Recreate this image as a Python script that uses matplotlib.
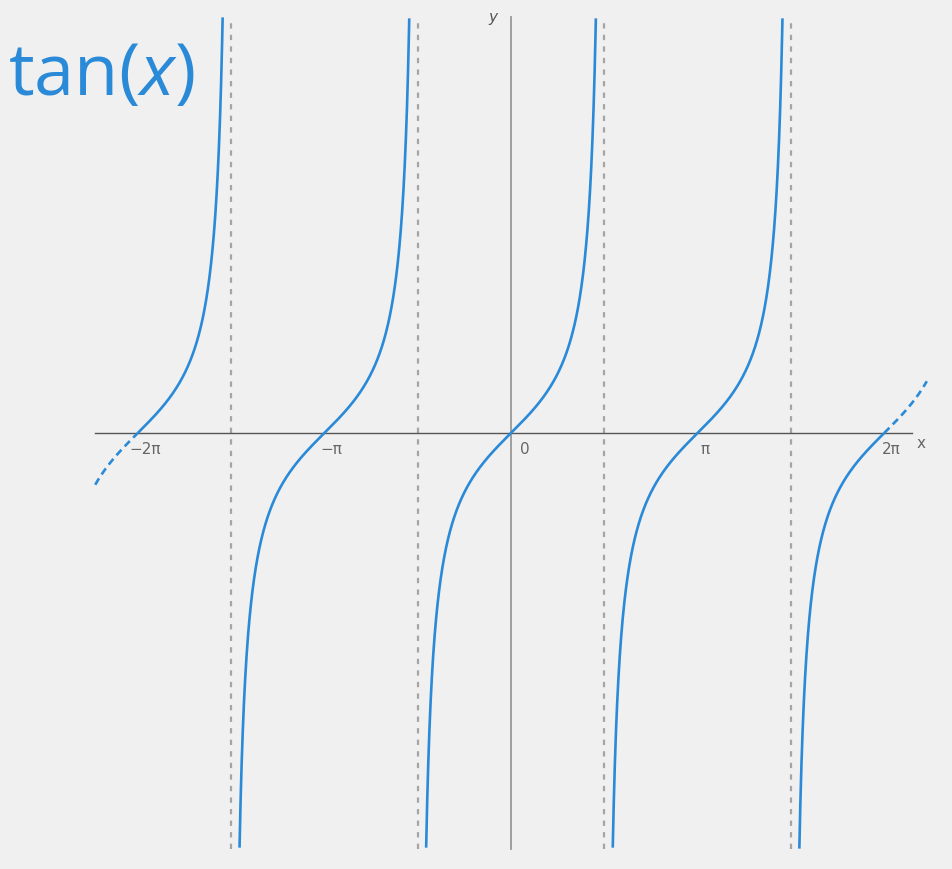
import numpy as np
import matplotlib
matplotlib.use("Agg")
import matplotlib.pyplot as plt

# ---- data ----
PI = np.pi
solid_range = [-2 * PI, 2 * PI]          # solid part of the curve
curve_range = [-7.0, 7.0]                # full drawn range (dashed outside solid)
y_range = [-7.0, 7.0]
asymptotes = [-1.5 * PI, -0.5 * PI, 0.5 * PI, 1.5 * PI]
tick_pos = [-2 * PI, -PI, 0.0, PI, 2 * PI]
tick_labels = ["\u22122\u03c0", "\u2212\u03c0", "0", "\u03c0", "2\u03c0"]

BLUE = "#2a8ad8"
BG = "#f0f0f0"

W, H = 952, 869
ox, oy = 511.0, 433.0       # pixel of origin
s = 59.4                    # pixels per unit

plt.rcParams["mathtext.fontset"] = "custom"
plt.rcParams["mathtext.rm"] = "Open Sans"
plt.rcParams["mathtext.it"] = "Open Sans:italic"

fig = plt.figure(figsize=(W / 100, H / 100), dpi=100, facecolor=BG)
ax = fig.add_axes([0, 0, 1, 1], facecolor=BG)
ax.set_xlim((0 - ox) / s, (W - ox) / s)
ax.set_ylim((oy - H) / s, oy / s)
ax.axis("off")

# axes lines
ax.plot([-7.0, 6.75], [0, 0], color="#555555", lw=1.0, zorder=2)
ax.plot([0, 0], y_range, color="#999999", lw=1.3, zorder=2)

# asymptotes
for a in asymptotes:
    ax.plot([a, a], y_range, color="#a5a5a5", lw=1.6, ls=(0, (2.4, 2.8)), zorder=1)

# curve branches
edges = [curve_range[0]] + asymptotes + [curve_range[1]]
for i in range(len(edges) - 1):
    lo, hi = edges[i], edges[i + 1]
    xs = np.linspace(lo + 1e-4, hi - 1e-4, 4000)
    ys = np.tan(xs)
    ys = np.where((ys > y_range[1]) | (ys < y_range[0]), np.nan, ys)
    inside = (xs >= solid_range[0]) & (xs <= solid_range[1])
    ax.plot(xs, np.where(inside, ys, np.nan), color=BLUE, lw=1.9, zorder=3,
            solid_capstyle="butt")
    out = ~inside
    if out.any():
        ax.plot(xs[out], ys[out], color=BLUE, lw=1.9, ls=(0, (2.8, 1.8)), zorder=3)

# tick labels
for p, lab in zip(tick_pos, tick_labels):
    dx = 0.24 if lab == "0" else 0.12
    ax.text(p + dx, -0.27, lab, ha="center", va="center", fontsize=11,
            color="#666666", family="DejaVu Sans")

# axis labels
ax.text(6.9, -0.17, "x", ha="center", va="center", fontsize=11,
        color="#666666")
ax.text(-0.3, 7.0, "y", ha="center", va="center", fontsize=11, style="italic",
        color="#555555")

# title
fig.text(8 / W, 1 - 95 / H, r"$\mathrm{tan}(x)$", fontsize=52, color=BLUE,
         ha="left", va="baseline", family="Open Sans")

fig.savefig("out.png", dpi=100, facecolor=BG)
